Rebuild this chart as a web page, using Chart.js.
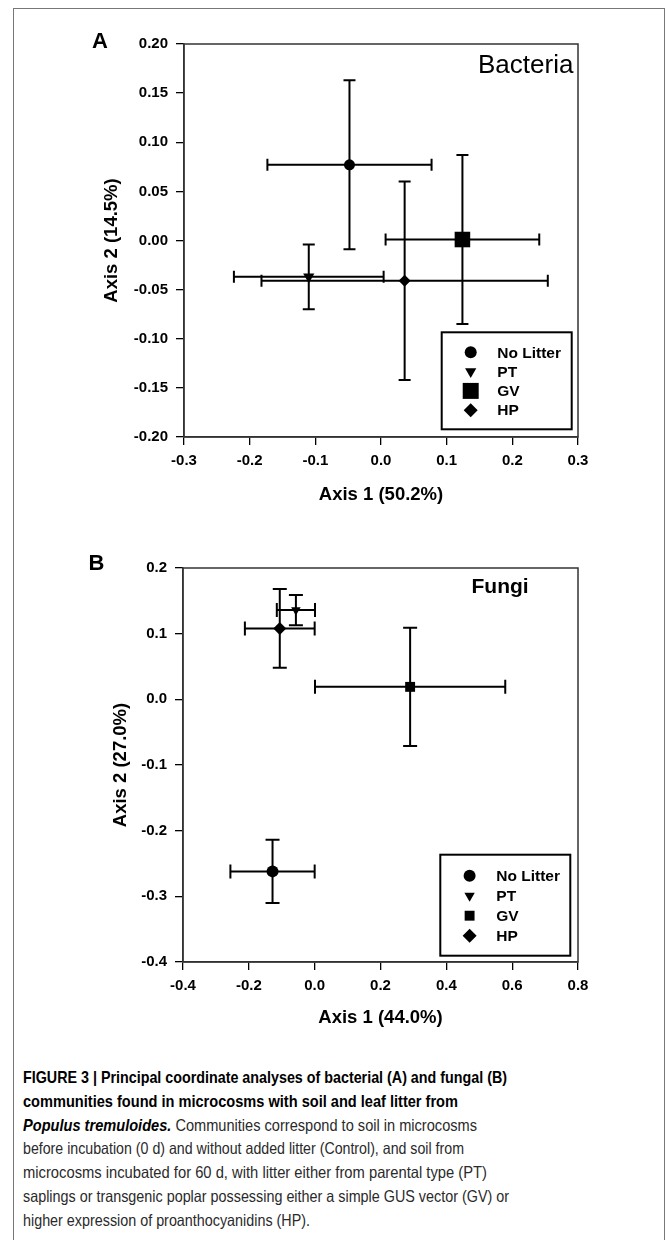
<!DOCTYPE html>
<html lang="en">
<head>
<meta charset="UTF-8">
<title>Figure 3</title>
<script src="https://cdn.jsdelivr.net/npm/chart.js@4.4.0/dist/chart.umd.min.js"></script>
<style>
  body { margin: 0; background: #fff; width: 667px; height: 1240px; position: relative; overflow: hidden;
         font-family: 'Liberation Sans', Arial, sans-serif; }
  .frame { position: absolute; left: 13px; top: 8px; width: 652px; height: 1260px; border: 1.5px solid #777; box-sizing: border-box; }
  canvas { position: absolute; left: 0; }
  .lbl { position: absolute; line-height: 1; white-space: nowrap; color: #000; }
  .cap { position: absolute; left: 23px; top: 1066px; font-size: 16.5px; line-height: 23.8px; color: #2a2a2a; }
  .cap div { white-space: nowrap; transform-origin: 0 0; width: max-content; }
  .cap b { color: #000; }
</style>
</head>
<body>
<div class="frame"></div>
<canvas id="bact" width="667" height="520" style="top:0"></canvas>
<canvas id="fung" width="667" height="500" style="top:540px"></canvas>

<div class="lbl" style="left:92px;top:29.7px;font-size:22px;font-weight:bold">A</div>
<div class="lbl" style="left:88.5px;top:552px;font-size:22px;font-weight:bold">B</div>
<div class="lbl" style="left:478px;top:51.3px;font-size:26px">Bacteria</div>
<div class="lbl" style="left:471.5px;top:574.5px;font-size:21px;font-weight:bold">Fungi</div>

<div class="cap">
  <div data-w="484"><b>FIGURE 3 | Principal coordinate analyses of bacterial (A) and fungal (B)</b></div>
  <div data-w="435"><b>communities found in microcosms with soil and leaf litter from</b></div>
  <div data-w="454"><b><i>Populus tremuloides.</i></b> Communities correspond to soil in microcosms</div>
  <div data-w="441">before incubation (0 d) and without added litter (Control), and soil from</div>
  <div data-w="464">microcosms incubated for 60 d, with litter either from parental type (PT)</div>
  <div data-w="486">saplings or transgenic poplar possessing either a simple GUS vector (GV) or</div>
  <div data-w="287">higher expression of proanthocyanidins (HP).</div>
</div>

<script>
  // groups
  const groups = ['No Litter', 'PT', 'GV', 'HP'];

  // A: bacteria, mean +/- error on each axis
  const bactX = [-0.048, -0.110, 0.124, 0.036];
  const bactY = [0.077, -0.037, 0.001, -0.041];
  const bactXErr = [0.125, 0.114, 0.117, 0.218];
  const bactYErr = [0.086, 0.033, 0.086, 0.101];

  // B: fungi
  const fungX = [-0.128, -0.057, 0.290, -0.106];
  const fungY = [-0.262, 0.136, 0.019, 0.108];
  const fungXErr = [0.128, 0.058, 0.289, 0.106];
  const fungYErr = [0.048, 0.023, 0.090, 0.060];

  // ticks
  const bactXTicks = [-0.3, -0.2, -0.1, 0, 0.1, 0.2, 0.3];
  const bactYTicks = [-0.2, -0.15, -0.1, -0.05, 0, 0.05, 0.1, 0.15, 0.2];
  const fungXTicks = [-0.4, -0.2, 0, 0.2, 0.4, 0.6, 0.8];
  const fungYTicks = [-0.4, -0.3, -0.2, -0.1, 0, 0.1, 0.2];

  const shapes = ['circle', 'triangle', 'rect', 'rectRot'];
  const turns = [0, 180, 0, 0];
  const FONT = "'Liberation Sans', Arial, sans-serif";

  const errorBars = {
    id: 'errorBars',
    beforeDatasetsDraw(chart, args, o) {
      const { ctx, scales: { x, y } } = chart;
      ctx.save();
      ctx.strokeStyle = '#000';
      ctx.lineWidth = 2;
      chart.data.datasets.forEach(ds => {
        const p = ds.data[0];
        const px = x.getPixelForValue(p.x), py = y.getPixelForValue(p.y);
        const x0 = x.getPixelForValue(p.x - p.xErr), x1 = x.getPixelForValue(p.x + p.xErr);
        const y0 = y.getPixelForValue(p.y - p.yErr), y1 = y.getPixelForValue(p.y + p.yErr);
        const c = o.cap;
        ctx.beginPath();
        ctx.moveTo(x0, py); ctx.lineTo(x1, py);
        ctx.moveTo(x0, py - c); ctx.lineTo(x0, py + c);
        ctx.moveTo(x1, py - c); ctx.lineTo(x1, py + c);
        ctx.moveTo(px, y0); ctx.lineTo(px, y1);
        ctx.moveTo(px - c, y0); ctx.lineTo(px + c, y0);
        ctx.moveTo(px - c, y1); ctx.lineTo(px + c, y1);
        ctx.stroke();
      });
      ctx.restore();
    }
  };

  // box round the plot area + the legend in its lower right corner
  const boxLegend = {
    id: 'boxLegend',
    afterDraw(chart, args, o) {
      const { ctx, chartArea: a } = chart;
      ctx.save();
      ctx.strokeStyle = '#333';
      ctx.lineWidth = 1.5;
      ctx.strokeRect(a.left, a.top, a.right - a.left, a.bottom - a.top);

      const bx = a.right - o.right - o.width, by = a.bottom - o.bottom - o.height;
      ctx.strokeStyle = '#000';
      ctx.lineWidth = 2;
      ctx.strokeRect(bx, by, o.width, o.height);
      ctx.font = 'bold 15.5px ' + FONT;
      ctx.textBaseline = 'middle';
      ctx.fillStyle = '#000';
      chart.data.datasets.forEach((ds, i) => {
        const yy = by + o.first + i * o.step;
        Chart.helpers.drawPoint(ctx, { pointStyle: ds.pointStyle, rotation: ds.pointRotation, radius: o.sizes[i], borderWidth: 0 }, bx + o.markX, yy);
        ctx.fillText(ds.label, bx + o.textX, yy + 1);
      });
      ctx.restore();
    }
  };

  function makeChart(canvas, s) {
    const datasets = groups.map((g, i) => ({
      label: g,
      data: [{ x: s.xs[i], y: s.ys[i], xErr: s.xErr[i], yErr: s.yErr[i] }],
      pointStyle: shapes[i],
      pointRotation: turns[i],
      pointRadius: s.sizes[i],
      backgroundColor: '#000',
      borderColor: '#000',
      borderWidth: 0
    }));
    const tickFont = { family: FONT, size: 15, weight: 'bold' };
    const titleFont = { family: FONT, size: 18.5, weight: 'bold' };
    return new Chart(canvas, {
      type: 'scatter',
      data: { datasets },
      options: {
        responsive: false,
        animation: false,
        devicePixelRatio: 1,
        layout: { padding: s.padding },
        plugins: {
          legend: { display: false },
          tooltip: { enabled: false },
          errorBars: { cap: s.cap },
          boxLegend: s.legend
        },
        scales: {
          x: {
            min: s.xTicks[0], max: s.xTicks[s.xTicks.length - 1],
            afterBuildTicks: sc => { sc.ticks = s.xTicks.map(v => ({ value: v })); },
            afterFit: sc => { sc.height = s.xHeight; },
            grid: { drawOnChartArea: false, drawTicks: true, tickLength: 8, color: '#000', lineWidth: 1.3 },
            border: { display: true, color: '#333', width: 1.5 },
            ticks: { color: '#000', font: tickFont, padding: 7, maxRotation: 0, autoSkip: false,
                     callback: v => v.toFixed(s.xDec) },
            title: { display: true, text: s.xTitle, color: '#000', font: titleFont, padding: { top: 0, bottom: s.xTitlePad } }
          },
          y: {
            min: s.yTicks[0], max: s.yTicks[s.yTicks.length - 1],
            afterBuildTicks: sc => { sc.ticks = s.yTicks.map(v => ({ value: v })); },
            afterFit: sc => { sc.width = s.yWidth; },
            grid: { drawOnChartArea: false, drawTicks: true, tickLength: 8, color: '#000', lineWidth: 1.3 },
            border: { display: true, color: '#333', width: 1.5 },
            ticks: { color: '#000', font: tickFont, padding: 8, autoSkip: false,
                     callback: v => v.toFixed(s.yDec) },
            title: { display: true, text: s.yTitle, color: '#000', font: titleFont, padding: { top: s.yTitlePad, bottom: 0 } }
          }
        }
      },
      plugins: [errorBars, boxLegend]
    });
  }

  makeChart(document.getElementById('bact'), {
    xs: bactX, ys: bactY, xErr: bactXErr, yErr: bactYErr,
    xTicks: bactXTicks, yTicks: bactYTicks, xDec: 1, yDec: 2,
    xTitle: 'Axis 1 (50.2%)', yTitle: 'Axis 2 (14.5%)',
    sizes: [5.5, 6.5, 11, 6],
    padding: { left: 100, top: 44, right: 89, bottom: 0 },
    yWidth: 84, xHeight: 83, xTitlePad: 14, yTitlePad: 1, cap: 6,
    legend: { right: 6.3, bottom: 7.7, width: 130, height: 97, first: 20, step: 19.3, markX: 29, textX: 55.6,
              sizes: [6, 6.5, 11.3, 7] }
  });

  makeChart(document.getElementById('fung'), {
    xs: fungX, ys: fungY, xErr: fungXErr, yErr: fungYErr,
    xTicks: fungXTicks, yTicks: fungYTicks, xDec: 1, yDec: 1,
    xTitle: 'Axis 1 (44.0%)', yTitle: 'Axis 2 (27.0%)',
    sizes: [6, 5.5, 7, 6.5],
    padding: { left: 100, top: 28, right: 89, bottom: 0 },
    yWidth: 83, xHeight: 78, xTitlePad: 11, yTitlePad: 10, cap: 7,
    legend: { right: 7.7, bottom: 6.3, width: 130, height: 101, first: 21, step: 20, markX: 29.3, textX: 56,
              sizes: [6, 6, 7, 7] }
  });

  // squeeze caption lines to the narrow width of the original typeface
  for (const line of document.querySelectorAll('.cap div')) {
    const w = line.getBoundingClientRect().width;
    line.style.transform = 'scaleX(' + (line.dataset.w / w) + ')';
  }
</script>
</body>
</html>
